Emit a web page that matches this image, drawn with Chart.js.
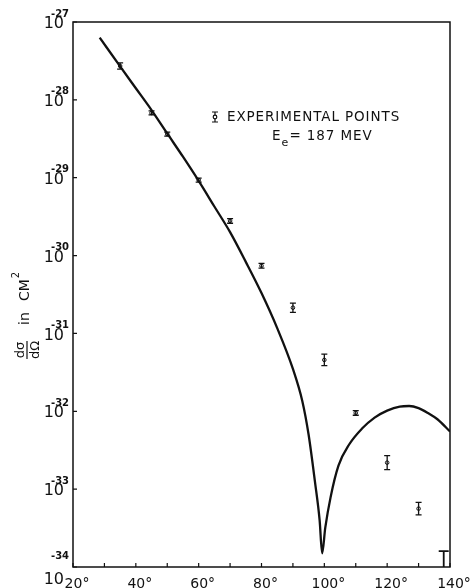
<!DOCTYPE html>
<html>
<head>
<meta charset="utf-8">
<script src="https://cdn.jsdelivr.net/npm/chart.js@4/dist/chart.umd.min.js"></script>
<style>
  body { margin: 0; background: #fff; }
  canvas { display: block; }
</style>
</head>
<body>
<canvas id="crossSection" width="473" height="588"></canvas>
<script>
// theoretical curve (angle in degrees, d sigma / d omega in cm^2)
const curveAngles = [28.5, 35, 40, 45, 50, 55, 60, 65, 70, 75, 80, 85, 90, 93, 95, 97, 98.5, 99.3,
                     100.3, 102, 104.5, 108, 112, 116, 120, 124, 127, 130, 133, 136, 140];
const curveValues = [6.3e-28, 2.69e-28, 1.41e-28, 7.4e-29, 3.7e-29, 1.86e-29, 9.1e-30, 4.27e-30, 2.0e-30,
                     8.3e-31, 3.3e-31, 1.17e-31, 3.5e-32, 1.35e-32, 5.0e-33, 1.26e-33, 4.0e-34, 1.5e-34,
                     3.2e-34, 7.9e-34, 2.0e-33, 3.8e-33, 6.0e-33, 8.3e-33, 1.02e-32, 1.15e-32, 1.17e-32,
                     1.1e-32, 9.5e-33, 7.9e-33, 5.5e-33];

// experimental points with error bars
const pointAngles = [35, 45, 50, 60, 70, 80, 90, 100, 110, 120, 130];
const pointValues = [2.72e-28, 6.79e-29, 3.63e-29, 9.33e-30, 2.79e-30, 7.41e-31, 2.14e-31, 4.57e-32, 9.55e-33, 2.19e-33, 5.62e-34];
const pointLow    = [2.48e-28, 6.41e-29, 3.43e-29, 8.8e-30, 2.6e-30, 6.9e-31, 1.86e-31, 3.85e-32, 8.9e-33, 1.78e-33, 4.68e-34];
const pointHigh   = [2.99e-28, 7.2e-29, 3.85e-29, 9.9e-30, 2.99e-30, 7.94e-31, 2.45e-31, 5.43e-32, 1.02e-32, 2.69e-33, 6.76e-34];

// upper limit at the last angle
const limitAngles = [138];
const limitValues = [1.6e-34];

const xTickValues = [20, 30, 40, 50, 60, 70, 80, 90, 100, 110, 120, 130, 140];
const yExponents = [-27, -28, -29, -30, -31, -32, -33, -34];

const ink = '#111';

const decorPlugin = {
  id: 'decor',
  afterDatasetsDraw(chart) {
    const c = chart.ctx;
    const xs = chart.scales.x, ys = chart.scales.y;
    const a = chart.chartArea;
    c.save();
    c.strokeStyle = ink;
    c.fillStyle = ink;

    // error bars
    c.lineWidth = 1.3;
    pointAngles.forEach((ang, i) => {
      const px = xs.getPixelForValue(ang);
      const y1 = ys.getPixelForValue(pointLow[i]);
      const y2 = ys.getPixelForValue(pointHigh[i]);
      c.beginPath();
      c.moveTo(px, y1); c.lineTo(px, y2);
      c.moveTo(px - 3, y1); c.lineTo(px + 3, y1);
      c.moveTo(px - 3, y2); c.lineTo(px + 3, y2);
      c.stroke();
    });
    limitAngles.forEach((ang, i) => {
      const px = xs.getPixelForValue(ang);
      const yt = ys.getPixelForValue(limitValues[i]);
      c.lineWidth = 1.8;
      c.beginPath();
      c.moveTo(px, yt); c.lineTo(px, a.bottom);
      c.moveTo(px - 5, yt); c.lineTo(px + 5, yt);
      c.stroke();
    });

    // frame
    c.lineWidth = 1.5;
    c.strokeRect(a.left, a.top, a.right - a.left, a.bottom - a.top);

    // inward ticks
    c.lineWidth = 1.2;
    c.beginPath();
    xTickValues.forEach(v => {
      const px = xs.getPixelForValue(v);
      c.moveTo(px, a.bottom); c.lineTo(px, a.bottom - 4);
    });
    yExponents.forEach(e => {
      const py = ys.getPixelForValue(Math.pow(10, e));
      c.moveTo(a.left, py); c.lineTo(a.left + 4, py);
    });
    c.stroke();

    // y tick labels 10^n
    yExponents.forEach((e, i) => {
      const py = ys.getPixelForValue(Math.pow(10, e));
      const last = i === yExponents.length - 1;
      c.font = '16px "DejaVu Sans"';
      c.textAlign = 'right';
      c.textBaseline = 'middle';
      c.fillText('10', 64, py + (last ? 13 : 2));
      c.font = 'bold 10px "DejaVu Sans"';
      c.textAlign = 'left';
      c.fillText(String(e), 51, py - (last ? 11 : 8));
    });

    // y axis title: d sigma / d omega in CM^2
    c.save();
    c.translate(27, 350);
    c.rotate(-Math.PI / 2);
    c.lineWidth = 1.2;
    c.beginPath();
    c.moveTo(-9, 0); c.lineTo(9, 0);
    c.stroke();
    c.font = '13px "DejaVu Sans"';
    c.textAlign = 'center';
    c.textBaseline = 'alphabetic';
    c.fillText('dσ', 0, -3);
    c.textBaseline = 'top';
    c.fillText('dΩ', 0, 2);
    c.textAlign = 'left';
    c.textBaseline = 'alphabetic';
    c.font = '14px "DejaVu Sans"';
    c.fillText('in', 25, 2);
    c.fillText('CM', 49, 2);
    const cmW = c.measureText('CM').width;
    c.font = '10px "DejaVu Sans"';
    c.fillText('2', 49 + cmW + 1, -8);
    c.restore();

    // legend
    const lx = 215, ly = 117;
    c.lineWidth = 1.2;
    c.beginPath();
    c.moveTo(lx, ly - 5); c.lineTo(lx, ly + 5);
    c.moveTo(lx - 3, ly - 5); c.lineTo(lx + 3, ly - 5);
    c.moveTo(lx - 3, ly + 5); c.lineTo(lx + 3, ly + 5);
    c.stroke();
    c.beginPath();
    c.fillStyle = '#fff';
    c.arc(lx, ly, 1.8, 0, Math.PI * 2);
    c.fill(); c.stroke();
    c.fillStyle = ink;
    c.letterSpacing = '0.9px';
    c.font = '13.5px "DejaVu Sans"';
    c.textAlign = 'left';
    c.textBaseline = 'middle';
    c.fillText('EXPERIMENTAL POINTS', 227, ly);
    c.textBaseline = 'alphabetic';
    c.fillText('E', 272, 140);
    const eW = c.measureText('E').width;
    c.font = '11px "DejaVu Sans"';
    c.fillText('e', 272 + eW, 146);
    c.font = '13.5px "DejaVu Sans"';
    c.fillText('= 187 MEV', 272 + eW + 8, 140);
    c.restore();
  }
};

new Chart(document.getElementById('crossSection').getContext('2d'), {
  type: 'scatter',
  data: {
    datasets: [
      {
        type: 'line',
        label: 'Theory',
        data: curveAngles.map((a, i) => ({ x: a, y: curveValues[i] })),
        borderColor: ink,
        borderWidth: 2.3,
        pointRadius: 0,
        fill: false,
        cubicInterpolationMode: 'monotone'
      },
      {
        label: 'EXPERIMENTAL POINTS',
        data: pointAngles.map((a, i) => ({ x: a, y: pointValues[i] })),
        pointRadius: 1.8,
        pointBackgroundColor: '#fff',
        pointBorderColor: ink,
        pointBorderWidth: 1
      },
      {
        label: 'Upper limit',
        data: limitAngles.map((a, i) => ({ x: a, y: limitValues[i] })),
        pointRadius: 0
      }
    ]
  },
  options: {
    responsive: false,
    animation: false,
    layout: { padding: { left: 73, right: 23, top: 22, bottom: 0 } },
    plugins: {
      legend: { display: false },
      tooltip: { enabled: false }
    },
    scales: {
      x: {
        type: 'linear',
        min: 20,
        max: 140,
        grid: { display: false },
        border: { display: false },
        afterBuildTicks: s => { s.ticks = xTickValues.map(v => ({ value: v })); },
        afterFit: s => { s.height = 21; },
        ticks: {
          autoSkip: false,
          maxRotation: 0,
          padding: 1,
          labelOffset: 4,
          color: ink,
          font: { family: 'DejaVu Sans', size: 14 },
          callback: v => (v % 20 === 0 ? v + '°' : '')
        }
      },
      y: {
        type: 'logarithmic',
        min: 1e-34,
        max: 1e-27,
        grid: { display: false },
        border: { display: false },
        ticks: { display: false },
        afterFit: s => { s.width = 0; }
      }
    }
  },
  plugins: [decorPlugin]
});
</script>
</body>
</html>
